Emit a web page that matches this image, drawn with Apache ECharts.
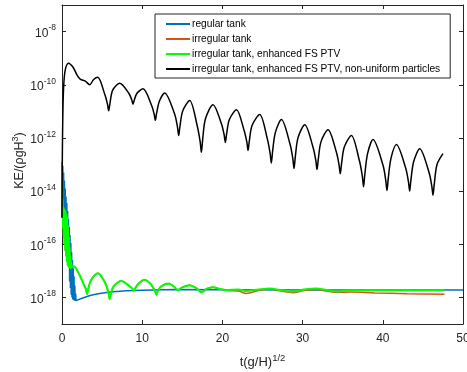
<!DOCTYPE html>
<html>
<head>
<meta charset="utf-8">
<script src="https://cdn.jsdelivr.net/npm/echarts@6/dist/echarts.min.js"></script>
<style>
  html, body { margin: 0; padding: 0; background: #fff; }
  #chart { width: 467px; height: 372px; }
</style>
</head>
<body>
<div id="chart"></div>
<script>
// 曲线数据: [t(g/H)^1/2, log10(KE/(rho g H^3))]
const regularPts = [
    [0, -12.9], [0.05, -13.9], [0.1, -13.05], [0.15, -14.3], [0.2, -13.3], [0.25, -14.7],
    [0.3, -13.6], [0.35, -15.05], [0.4, -13.9], [0.45, -15.4], [0.5, -14.2], [0.55, -15.8],
    [0.6, -14.45], [0.65, -16.15], [0.7, -14.75], [0.75, -16.5], [0.8, -15.05], [0.85, -16.85],
    [0.9, -15.35], [0.95, -17.4], [1.0, -15.65], [1.05, -17.65], [1.1, -15.95], [1.15, -17.9],
    [1.2, -16.3], [1.25, -18.0], [1.3, -16.6], [1.35, -18.08], [1.4, -16.9], [1.45, -18.1],
    [1.5, -17.2], [1.55, -18.12], [1.6, -17.55], [1.65, -18.13], [1.7, -17.85], [1.75, -18.12],
    [1.85, -18.12], [2.5, -18.03], [3.5, -17.93], [4.5, -17.86], [6, -17.8], [8, -17.75],
    [10, -17.73], [14, -17.7], [20, -17.71], [30, -17.72], [40, -17.72], [50, -17.72]
];

const greenPts = [
    [0, -13.6], [0.02, -14.5], [0.04, -15.0], [0.08, -14.55], [0.12, -15.4], [0.16, -14.6],
    [0.2, -15.7], [0.25, -14.65], [0.3, -16.0], [0.35, -14.7], [0.4, -16.25], [0.45, -14.75],
    [0.5, -16.45], [0.55, -14.85], [0.6, -16.65], [0.65, -14.95], [0.7, -16.8], [0.75, -15.3],
    [0.8, -16.85], [0.85, -15.7], [0.9, -16.85], [0.95, -16.1], [1.0, -16.9], [1.05, -16.45],
    [1.1, -16.9], [1.15, -16.7], [1.25, -16.85], [1.5, -16.84],
    [2.1, -17.1], [2.62, -17.45], [2.97, -17.68], [3.12, -17.88], [3.27, -17.68], [3.62, -17.35],
    [4.5, -17.09], [5.2, -17.35], [5.6, -17.62], [5.8, -17.85], [5.95, -18.06], [6.1, -17.85],
    [6.45, -17.58], [7.4, -17.38], [8.1, -17.5], [8.6, -17.62], [8.8, -17.68], [8.94, -17.75],
    [9.1, -17.67], [9.5, -17.5], [10.3, -17.34], [11.0, -17.48], [11.4, -17.65], [11.62, -17.78],
    [11.77, -17.9], [11.92, -17.78], [12.3, -17.6], [13.3, -17.48], [14.0, -17.6], [14.46, -17.73],
    [15.0, -17.62], [15.9, -17.54], [16.8, -17.66], [17.4, -17.81], [18.0, -17.68], [18.8, -17.62],
    [19.7, -17.68], [20.5, -17.72], [22, -17.7], [23, -17.76], [24.5, -17.7], [25.9, -17.66],
    [27.3, -17.73], [28.8, -17.78], [30.2, -17.7], [31.7, -17.66], [33, -17.72], [34.2, -17.78],
    [35.5, -17.74], [37, -17.73], [47.7, -17.73]
];

// 不规则水槽: 前段与绿色曲线重合, 之后略低
const orangeTail = [
    [20.5, -17.74], [22, -17.76], [23, -17.85], [24.5, -17.74], [25.9, -17.69], [27.3, -17.76],
    [28.8, -17.82], [30.2, -17.74], [31.7, -17.7], [33, -17.76], [34.2, -17.81], [36, -17.8],
    [39, -17.83], [43, -17.86], [47.7, -17.88]
];

const blackPts = [
    [0, -15.0], [0.04, -12.8], [0.1, -11.2], [0.2, -10.1], [0.4, -9.45], [0.8, -9.19],
    [1.4, -9.35], [1.9, -9.65], [2.3, -9.8], [2.9, -9.86], [3.45, -10.0], [3.95, -9.8], [4.45, -9.72],
    [5.32, -10.35], [5.67, -10.73], [5.82, -10.98], [5.97, -10.72], [6.32, -10.2], [7.2, -9.94],
    [8.35, -10.33], [8.7, -10.57], [8.85, -10.73], [9.0, -10.59], [9.35, -10.32], [10.1, -10.15],
    [11.14, -10.75], [11.49, -11.1], [11.64, -11.34], [11.79, -11.08], [12.14, -10.62], [12.8, -10.31],
    [14.05, -11.11], [14.4, -11.59], [14.55, -11.91], [14.7, -11.58], [15.05, -10.99], [15.92, -10.59],
    [16.88, -11.57], [17.23, -12.15], [17.38, -12.54], [17.53, -12.09], [17.88, -11.29], [18.83, -10.75],
    [19.87, -11.46], [20.22, -11.89], [20.37, -12.17], [20.52, -11.86], [20.87, -11.31], [21.75, -10.94],
    [22.7, -11.71], [23.05, -12.16], [23.2, -12.47], [23.35, -12.13], [23.7, -11.53], [24.65, -11.12],
    [25.6, -12.03], [25.95, -12.58], [26.1, -12.94], [26.25, -12.53], [26.6, -11.8], [27.36, -11.31],
    [28.43, -12.23], [28.78, -12.78], [28.93, -13.15], [29.08, -12.74], [29.43, -11.99], [30.27, -11.5],
    [31.3, -12.35], [31.65, -12.85], [31.8, -13.19], [31.95, -12.82], [32.3, -12.14], [33.17, -11.69],
    [34.2, -12.52], [34.55, -13.02], [34.7, -13.35], [34.85, -12.99], [35.2, -12.34], [36.08, -11.91],
    [37.1, -12.88], [37.45, -13.45], [37.6, -13.84], [37.75, -13.4], [38.1, -12.59], [38.78, -12.06],
    [40.02, -13.02], [40.37, -13.6], [40.52, -13.98], [40.67, -13.55], [41.02, -12.77], [41.7, -12.25],
    [42.85, -13.13], [43.2, -13.65], [43.35, -14.0], [43.5, -13.6], [43.85, -12.89], [44.6, -12.41],
    [45.76, -13.29], [46.11, -13.81], [46.26, -14.16], [46.41, -13.76], [46.76, -13.0], [47.5, -12.59]
];

const seriesNames = [
    'regular tank',
    'irregular tank',
    'irregular tank, enhanced FS PTV',
    'irregular tank, enhanced FS PTV, non-uniform particles'
];
const seriesColors = ['#0072BD', '#D95319', '#00FF00', '#000000'];
const yTickExp = [-18, -16, -14, -12, -10, -8];
const xTicks = [0, 10, 20, 30, 40, 50];

const FONT = 'Liberation Sans, Arial, sans-serif';
const AXIS_COLOR = '#262626';

// 指数 -> 实际数值 (对数坐标轴)
function toKE(pts) {
    return pts.map(p => [p[0], Math.pow(10, p[1])]);
}

const orangePts = greenPts.filter(p => p[0] < 20.5).concat(orangeTail);
const yTickValues = yTickExp.map(e => Math.pow(10, e));

const chart = echarts.init(document.getElementById('chart'));

function makeX(position) {
    const isBottom = position === 'bottom';
    return {
        type: 'value',
        position: position,
        min: 0,
        max: 50,
        interval: 10,
        axisLine: { show: true, onZero: false, lineStyle: { color: AXIS_COLOR, width: 1 } },
        axisTick: { show: true, inside: true, length: 4, lineStyle: { color: AXIS_COLOR } },
        axisLabel: {
            show: isBottom, margin: 9, color: AXIS_COLOR, fontFamily: FONT, fontSize: 12,
            customValues: xTicks
        },
        splitLine: { show: false },
        name: isBottom ? '{n|t(g/H)}{s|1/2}' : '',
        nameLocation: 'middle',
        nameGap: 29,
        nameTextStyle: {
            rich: {
                n: { fontFamily: FONT, fontSize: 13, color: AXIS_COLOR, verticalAlign: 'bottom' },
                s: { fontFamily: FONT, fontSize: 9.5, color: AXIS_COLOR, verticalAlign: 'bottom', padding: [0, 0, 6, 0] }
            }
        }
    };
}

function makeY(position) {
    const isLeft = position === 'left';
    return {
        type: 'log',
        logBase: 10,
        position: position,
        min: 1e-19,
        max: 1e-7,
        axisLine: { show: true, onZero: false, lineStyle: { color: AXIS_COLOR, width: 1 } },
        axisTick: { show: true, inside: true, length: 4, customValues: yTickValues, lineStyle: { color: AXIS_COLOR } },
        axisLabel: {
            show: isLeft,
            margin: 6,
            customValues: yTickValues,
            formatter: function (v) {
                const e = Math.round(Math.log10(v));
                return '{b|10}{s|' + e + '}';
            },
            rich: {
                b: { fontFamily: FONT, fontSize: 12, color: AXIS_COLOR, verticalAlign: 'bottom' },
                s: { fontFamily: FONT, fontSize: 8.5, color: AXIS_COLOR, verticalAlign: 'bottom', padding: [0, 0, 7, 0] }
            }
        },
        splitLine: { show: false },
        minorTick: { show: false },
        name: isLeft ? '{n|KE/(ρgH}{s|3}{n|)}' : '',
        nameLocation: 'middle',
        nameGap: 36,
        nameMoveOverlap: false,
        nameTextStyle: {
            padding: [0, 0, 0, 8],
            rich: {
                n: { fontFamily: FONT, fontSize: 12.5, color: AXIS_COLOR, verticalAlign: 'bottom' },
                s: { fontFamily: FONT, fontSize: 9, color: AXIS_COLOR, verticalAlign: 'bottom', padding: [0, 0, 6, 0] }
            }
        }
    };
}

const curveData = [regularPts, orangePts, greenPts, blackPts];
const lineWidths = [1.5, 1.5, 2, 1.5];
const smoothing = [false, 0.3, 0.3, 0.3];

const option = {
    animation: false,
    backgroundColor: '#fff',
    grid: { left: 62, right: 4, top: 5, bottom: 48, containLabel: false, outerBoundsMode: 'none' },
    xAxis: [makeX('bottom'), makeX('top')],
    yAxis: [makeY('left'), makeY('right')],
    legend: {
        orient: 'vertical',
        left: 155,
        top: 14,
        padding: [4, 10, 3, 11],
        backgroundColor: '#fff',
        borderColor: AXIS_COLOR,
        borderWidth: 1,
        itemWidth: 24,
        itemHeight: 2,
        itemGap: 3,
        icon: 'rect',
        textStyle: { fontFamily: FONT, fontSize: 10.2, color: '#000', lineHeight: 12, padding: [0, 0, 0, -3] },
        data: seriesNames
    },
    series: seriesNames.map((name, i) => ({
        name: name,
        type: 'line',
        xAxisIndex: 0,
        yAxisIndex: 0,
        data: toKE(curveData[i]),
        showSymbol: false,
        symbol: 'none',
        smooth: smoothing[i],
        clip: true,
        color: seriesColors[i],
        lineStyle: { color: seriesColors[i], width: lineWidths[i] },
        z: 2 + i
    }))
};

chart.setOption(option);
</script>
</body>
</html>
